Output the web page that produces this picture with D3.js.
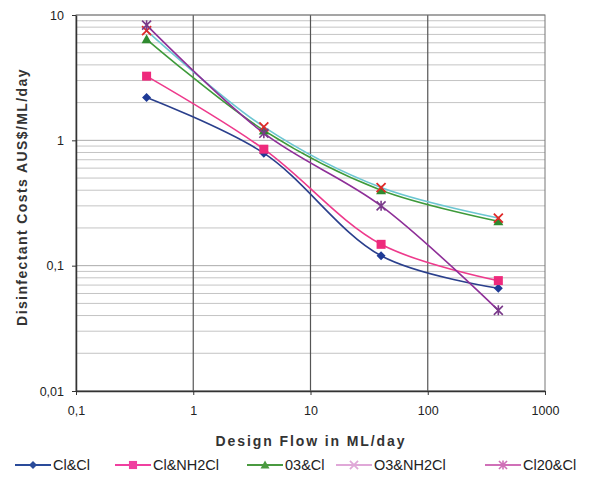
<!DOCTYPE html>
<html><head><meta charset="utf-8">
<script src="https://cdn.jsdelivr.net/npm/d3@7"></script>
<style>body{margin:0;background:#fff}svg{display:block;font-family:"Liberation Sans",Arial,sans-serif}</style>
</head><body><svg id="c" width="590" height="479"></svg>
<script>
const flows = [0.4, 4, 40, 400];
const seriesNames = ["Cl&Cl", "Cl&NH2Cl", "03&Cl", "O3&NH2Cl", "Cl20&Cl"];
const clcl = [2.2, 0.79, 0.12, 0.066];
const clnh2cl = [3.25, 0.85, 0.148, 0.076];
const o3cl = [6.4, 1.2, 0.4, 0.226];
const o3nh2cl = [7.5, 1.28, 0.42, 0.24];
const cl2ocl = [8.3, 1.14, 0.3, 0.044];
const xTicks = [0.1, 1, 10, 100, 1000];
const xTickLabels = ["0,1", "1", "10", "100", "1000"];
const yTicks = [0.01, 0.1, 1, 10];
const yTickLabels = ["0,01", "0,1", "1", "10"];

const values = [clcl, clnh2cl, o3cl, o3nh2cl, cl2ocl];
const lineColors = ["#2a3f8c", "#ee3a8c", "#3e9a3a", "#6cc6d2", "#8e2f98"];
const markerColors = ["#1e3a96", "#ee2a7c", "#2f8a2f", "#e02828", "#7a3a8a"];
const legendColors = ["#2a4b9a", "#f040a0", "#4a9a40", "#e0a8d8", "#d070b8"];
const markers = ["diamond", "square", "triangle", "x", "star"];

const svg = d3.select("#c");
const L = 76, R = 545, T = 15, B = 391;
const x = d3.scaleLog().domain([0.1, 1000]).range([L, R]);
const y = d3.scaleLog().domain([0.01, 10]).range([B, T]);

// minor horizontal grid
const minor = [];
[0.01, 0.1, 1].forEach(d => { for (let k = 2; k <= 9; k++) minor.push(d * k); });
svg.append("g").selectAll("line").data(minor).join("line")
  .attr("x1", L).attr("x2", R).attr("y1", d => y(d)).attr("y2", d => y(d))
  .attr("stroke", "#c4c4c4").attr("stroke-width", 1);
svg.append("g").selectAll("line").data(yTicks).join("line")
  .attr("x1", L).attr("x2", R).attr("y1", d => y(d)).attr("y2", d => y(d))
  .attr("stroke", "#aaa").attr("stroke-width", 1);
svg.append("g").selectAll("line").data(xTicks.slice(1, 4)).join("line")
  .attr("y1", T).attr("y2", B).attr("x1", d => x(d)).attr("x2", d => x(d))
  .attr("stroke", "#555").attr("stroke-width", 1.2);
// border
svg.append("rect").attr("x", L).attr("y", T).attr("width", R - L).attr("height", B - T)
  .attr("fill", "none").attr("stroke", "#777").attr("stroke-width", 1);

// axes
const xAxis = d3.axisBottom(x).tickValues(xTicks).tickFormat((d, i) => xTickLabels[i]).tickSize(4).tickSizeOuter(0);
const gx = svg.append("g").attr("transform", `translate(0,${B})`).call(xAxis);
gx.select(".domain").attr("stroke", "#333").attr("stroke-width", 1.5);
gx.selectAll(".tick line").attr("stroke", "#333");
gx.selectAll("text").attr("font-size", 12.5).attr("fill", "#222").attr("dy", "1.35em")
  .attr("font-family", "Liberation Sans, Arial, sans-serif");
const yAxis = d3.axisLeft(y).tickValues(yTicks).tickFormat((d, i) => yTickLabels[i]).tickSize(4).tickSizeOuter(0);
const gy = svg.append("g").attr("transform", `translate(${L},0)`).call(yAxis);
gy.select(".domain").attr("stroke", "#333").attr("stroke-width", 1.5);
gy.selectAll(".tick line").attr("stroke", "#333");
gy.selectAll("text").attr("font-size", 12.5).attr("fill", "#222").attr("dx", "-0.4em")
  .attr("font-family", "Liberation Sans, Arial, sans-serif");

// titles
svg.append("text").attr("x", 311).attr("y", 446).attr("text-anchor", "middle")
  .attr("font-size", 14).attr("font-weight", "bold").attr("letter-spacing", 1.9).attr("fill", "#333")
  .text("Design Flow in ML/day");
svg.append("text").attr("transform", "translate(27,197) rotate(-90)").attr("text-anchor", "middle")
  .attr("font-size", 14).attr("font-weight", "bold").attr("letter-spacing", 1.4).attr("fill", "#333")
  .text("Disinfectant Costs AUS$/ML/day");

function drawMarker(g, type, cx, cy, color, s) {
  s = s || 1;
  if (type === "diamond") g.append("path").attr("d", `M${cx},${cy-4.5*s}L${cx+4.5*s},${cy}L${cx},${cy+4.5*s}L${cx-4.5*s},${cy}Z`).attr("fill", color);
  else if (type === "square") g.append("rect").attr("x", cx-4.5*s).attr("y", cy-4.5*s).attr("width", 9*s).attr("height", 9*s).attr("fill", color);
  else if (type === "triangle") g.append("path").attr("d", `M${cx},${cy-5*s}L${cx+5*s},${cy+4*s}L${cx-5*s},${cy+4*s}Z`).attr("fill", color);
  else if (type === "x") g.append("path").attr("d", `M${cx-4.5*s},${cy-4.5*s}L${cx+4.5*s},${cy+4.5*s}M${cx+4.5*s},${cy-4.5*s}L${cx-4.5*s},${cy+4.5*s}`).attr("stroke", color).attr("stroke-width", 1.8);
  else if (type === "star") g.append("path").attr("d", `M${cx-4.5*s},${cy-4.5*s}L${cx+4.5*s},${cy+4.5*s}M${cx+4.5*s},${cy-4.5*s}L${cx-4.5*s},${cy+4.5*s}M${cx},${cy-5*s}L${cx},${cy+5*s}`).attr("stroke", color).attr("stroke-width", 1.6);
}

const line = d3.line().x(d => x(d[0])).y(d => y(d[1])).curve(d3.curveCatmullRom.alpha(0.5));
const order = [0, 1, 2, 3, 4];
order.forEach(i => {
  const pts = flows.map((f, j) => [f, values[i][j]]);
  svg.append("path").attr("d", line(pts)).attr("fill", "none")
    .attr("stroke", lineColors[i]).attr("stroke-width", 1.6);
});
order.forEach(i => {
  const g = svg.append("g");
  flows.forEach((f, j) => drawMarker(g, markers[i], x(f), y(values[i][j]), markerColors[i]));
});

// legend
const legX = [15, 115, 247, 336, 485];
const ly = 465;
seriesNames.forEach((n, i) => {
  const g = svg.append("g");
  g.append("line").attr("x1", legX[i]).attr("x2", legX[i] + 36).attr("y1", ly).attr("y2", ly)
    .attr("stroke", legendColors[i]).attr("stroke-width", 1.8);
  drawMarker(g, markers[i], legX[i] + 18, ly, legendColors[i], 0.9);
  g.append("text").attr("x", legX[i] + 38).attr("y", ly + 5).attr("font-size", 14.5).attr("fill", "#222")
    .text(n);
});
</script></body></html>
